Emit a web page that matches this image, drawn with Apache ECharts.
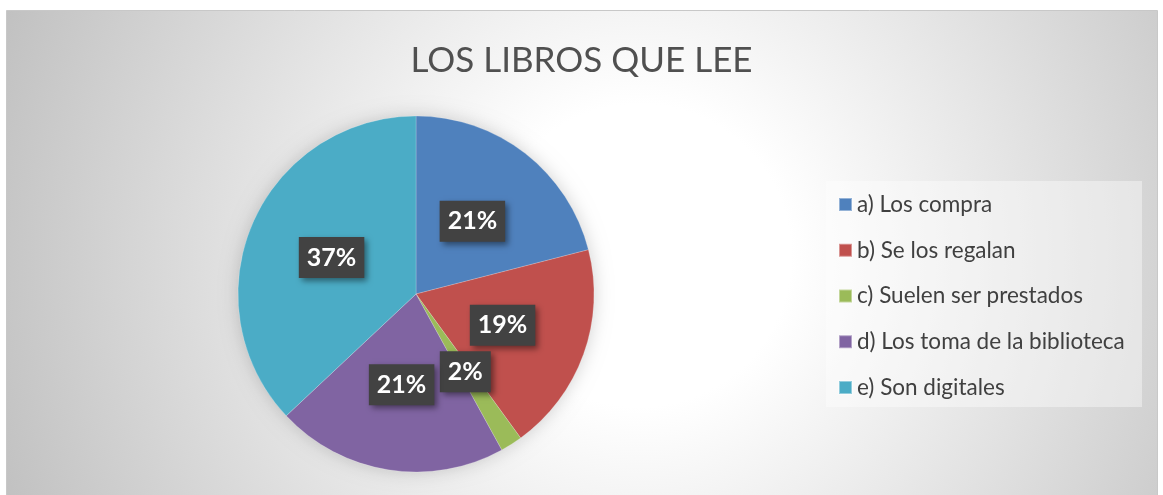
<!DOCTYPE html>
<html>
<head>
<meta charset="utf-8">
<script src="https://cdn.jsdelivr.net/npm/echarts@6/dist/echarts.min.js"></script>
<style>
html,body{margin:0;padding:0;background:#fff;}
#c{width:1163px;height:495px;}
</style>
</head>
<body>
<div id="c"></div>
<script>
const title = 'LOS LIBROS QUE LEE';
const categories = ['a) Los compra','b) Se los regalan','c) Suelen ser prestados','d) Los toma de la biblioteca','e) Son digitales'];
const values = [21, 19, 2, 21, 37];
const colors = ['#4f81bd','#c0504d','#9bbb59','#8064a2','#4bacc6'];

const chart = echarts.init(document.getElementById('c'), null, {renderer:'canvas'});
const center = [416, 294];
const radius = 178;

chart.setOption({
  animation: false,
  graphic: [
    {type:'rect', z:-10, shape:{x:6.5, y:10.5, width:1151, height:490},
     style:{fill:{type:'radial', x:0.55, y:0.5, r:1.4,
        colorStops:[{offset:0,color:'#ffffff'},{offset:0.22,color:'#ffffff'},{offset:1,color:'#c0c0c0'}]},
        stroke:'#c8c8c8', lineWidth:1}},
    {type:'rect', z:-5, shape:{x:826, y:181, width:316, height:226},
     style:{fill:'rgba(255,255,255,0.4)'}}
  ],
  title: {
    text: title, left: 'center', top: 38,
    textStyle: {fontFamily:'Lato', fontWeight:'normal', fontSize:35, color:'#505050'}
  },
  legend: {
    orient:'vertical', left: 838, top: 193, padding: 0,
    itemWidth: 13, itemHeight: 13, itemGap: 22.75,
    icon: 'rect',
    textStyle: {fontFamily:'Lato', fontSize:22.5, lineHeight:22, color:'#404040'},
    data: categories
  },
  series: [
    {
      type:'pie', center: center, radius: radius, silent:true, z:1,
      label:{show:false}, labelLine:{show:false},
      itemStyle:{color:'#e0e0e0', shadowBlur:18, shadowColor:'rgba(0,0,0,0.18)'},
      data:[{value:1, name:'_shadow'}]
    },
    {
      type:'pie', center: center, radius: radius, startAngle: 90, z:2,
      color: colors,
      itemStyle:{borderColor:'rgba(255,255,255,0.4)', borderWidth:0.5},
      label:{
        show:true, position:'inside',
        formatter: p => p.value + '%',
        fontFamily:'Lato', fontWeight:'bold', fontSize:25, lineHeight:25, color:'#ffffff',
        backgroundColor:'#424242', padding:[8,8,8,8],
        shadowColor:'rgba(0,0,0,0.45)', shadowBlur:6, shadowOffsetX:3, shadowOffsetY:3
      },
      labelLine:{show:false},
      data: categories.map((n,i)=>({name:n, value:values[i]}))
    }
  ]
});
</script>
</body>
</html>
